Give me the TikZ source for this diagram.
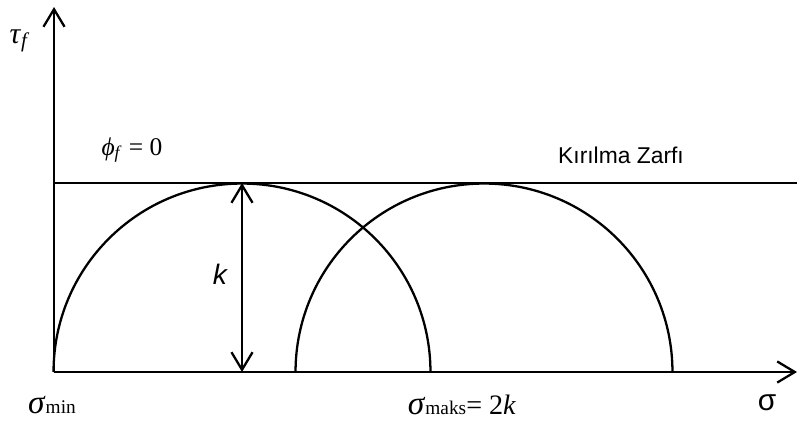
\documentclass[tikz,border=0pt]{standalone}
\usepackage{fontspec}
\setmainfont{Liberation Serif}
\setsansfont{Liberation Sans}
\usepackage{tikz}
\usetikzlibrary{arrows.meta}

\begin{document}
\begin{tikzpicture}[
  x=0.02cm, y=0.02cm,
  every node/.style={inner sep=0pt},
  line/.style={line width=1.3pt},
  axis/.style={line, -{Straight Barb[length=10pt, width=12pt, line width=1.3pt]}},
  dim/.style={line, {Straight Barb[length=10pt, width=12pt, line width=1.3pt]}-{Straight Barb[length=10pt, width=12pt, line width=1.3pt]}},
  plain/.style={font=\sffamily\fontsize{13}{13}\selectfont},
]
\useasboundingbox (0,0) rectangle (797,427);

% Axes
\coordinate (O) at (54,55);
\coordinate (ytip) at (54,420);
\coordinate (xtip) at (797,55);
\draw[axis] (O) -- (ytip);
\draw[axis] (O) -- (xtip);

% Failure envelope
\coordinate (envL) at (54,244);
\coordinate (envR) at (797,244);
\draw[line] (envL) -- (envR);

% Mohr circles
\coordinate (c1) at (242,55);
\coordinate (c2) at (484,55);
\draw[line] ([xshift=-3.77cm]c1) arc[start angle=180, end angle=0, radius=3.77cm];
\draw[line] ([xshift=-3.77cm]c2) arc[start angle=180, end angle=0, radius=3.77cm];

% Radius k
\coordinate (ktop) at (242,244);
\draw[dim] (c1) -- (ktop);

% Labels
\node (tau) at (20,386) {\fontsize{17}{17}\selectfont\textit{τ}\textsubscript{\textit{f}}};
\node (phi) at (132,277) {\fontsize{14.5}{14.5}\selectfont\textit{ϕ}\textsubscript{\textit{f}} = 0};
\node[plain] (zarf) at (621,272) {Kırılma Zarfı};
\node[font=\sffamily\itshape\fontsize{16}{16}\selectfont] (k) at (220,153) {k};
\node (smin) at (52,22) {\fontsize{19}{19}\selectfont\textit{σ}\fontsize{11}{11}\selectfont min};
\node (smaks) at (462,22) {\fontsize{19}{19}\selectfont\textit{σ}\fontsize{11}{11}\selectfont maks\fontsize{16}{16}\selectfont= 2\textit{k}};
\node[font=\sffamily\fontsize{17}{17}\selectfont] (sig) at (767,24) {σ};

\end{tikzpicture}
\end{document}
